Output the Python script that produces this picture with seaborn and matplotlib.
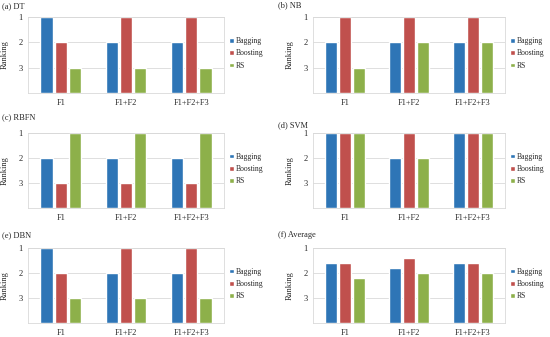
import matplotlib
matplotlib.use('Agg')
import matplotlib.pyplot as plt
import pandas as pd
import numpy as np
import seaborn as sns

sns.set_style('white')
plt.rcParams['font.family'] = ['Liberation Serif', 'DejaVu Serif']

feature_sets = ['F1', 'F1+F2', 'F1+F2+F3']
methods = ['Bagging', 'Boosting', 'RS']
colors = ['#2E75B6', '#C0504D', '#8DB04A']

panel_titles = ['(a) DT', '(b) NB', '(c) RBFN', '(d) SVM', '(e) DBN', '(f) Average']

# rankings per method, one value per feature set
dt_bagging = [1, 2, 2]
dt_boosting = [2, 1, 1]
dt_rs = [3, 3, 3]

nb_bagging = [2, 2, 2]
nb_boosting = [1, 1, 1]
nb_rs = [3, 2, 2]

rbfn_bagging = [2, 2, 2]
rbfn_boosting = [3, 3, 3]
rbfn_rs = [1, 1, 1]

svm_bagging = [1, 2, 1]
svm_boosting = [1, 1, 1]
svm_rs = [1, 2, 1]

dbn_bagging = [1, 2, 2]
dbn_boosting = [2, 1, 1]
dbn_rs = [3, 3, 3]

avg_bagging = [1.6, 1.8, 1.6]
avg_boosting = [1.6, 1.4, 1.6]
avg_rs = [2.2, 2.0, 2.0]

panels = [
    (dt_bagging, dt_boosting, dt_rs),
    (nb_bagging, nb_boosting, nb_rs),
    (rbfn_bagging, rbfn_boosting, rbfn_rs),
    (svm_bagging, svm_boosting, svm_rs),
    (dbn_bagging, dbn_boosting, dbn_rs),
    (avg_bagging, avg_boosting, avg_rs),
]

BASE = 4  # bars rise from rank 4 up to their ranking


def make_table(series):
    rows = []
    for method, vals in zip(methods, series):
        for fs, v in zip(feature_sets, vals):
            rows.append({'features': fs, 'method': method, 'height': BASE - v})
    return pd.DataFrame(rows)


fig = plt.figure(figsize=(5.5, 3.37), dpi=100)
W, H = 550.0, 337.0

# axes boxes in pixels: left, top, right, bottom
boxes = [
    (28, 17, 224, 93), (313, 17, 505, 93),
    (28, 133, 224, 208), (313, 133, 505, 208),
    (28, 248, 224, 323), (313, 248, 505, 323),
]
title_pos = [(2, 6), (278, 5), (2, 117), (278, 125), (2, 235), (278, 235)]

for i, series in enumerate(panels):
    l, t, r, b = boxes[i]
    ax = fig.add_axes([l / W, 1 - b / H, (r - l) / W, (b - t) / H])
    table = make_table(series)
    sns.barplot(data=table, x='features', y='height', hue='method',
                hue_order=methods, order=feature_sets, palette=colors,
                width=0.65, gap=0.15, ax=ax, errorbar=None, saturation=1)
    ax.set_ylim(0, 3)
    ax.set_yticks([1, 2, 3])
    ax.set_yticklabels(['3', '2', '1'])
    ax.set_xlim(-0.5, 2.5)
    ax.grid(axis='y', color='#D9D9D9', lw=0.6)
    ax.set_axisbelow(True)
    for s in ax.spines.values():
        s.set_color('#D9D9D9')
        s.set_linewidth(0.6)
    ax.tick_params(axis='both', length=0, labelsize=6, pad=4)
    ax.set_xlabel('')
    ax.set_ylabel('Ranking', fontsize=6, labelpad=7)
    ax.legend(loc='center left', bbox_to_anchor=(1.0, 0.52), frameon=False,
              fontsize=5.5, handlelength=0.55, handleheight=0.55,
              handletextpad=0.25, labelspacing=0.55, borderaxespad=0.3)
    tx, ty = title_pos[i]
    fig.text(tx / W, 1 - ty / H, panel_titles[i], fontsize=6, va='center', ha='left')

fig.savefig('out.png', dpi=100)
